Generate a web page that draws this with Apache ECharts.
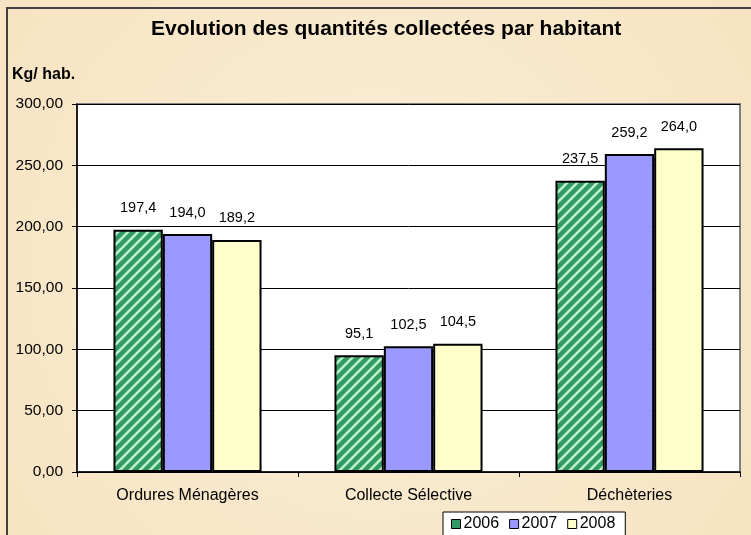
<!DOCTYPE html>
<html>
<head>
<meta charset="utf-8">
<script src="https://cdn.jsdelivr.net/npm/echarts@6/dist/echarts.min.js"></script>
<style>
  html, body { margin: 0; padding: 0; }
  #main { width: 751px; height: 535px; background: #f9ead0; }
</style>
</head>
<body>
<div id="main"></div>
<script>
const categories = ['Ordures Ménagères', 'Collecte Sélective', 'Déchèteries'];
const years = ['2006', '2007', '2008'];
const values2006 = [197.4, 95.1, 237.5];
const values2007 = [194.0, 102.5, 259.2];
const values2008 = [189.2, 104.5, 264.0];
const yTicks = [0, 50, 100, 150, 200, 250, 300];

// motif hachuré pour 2006
function stripePattern() {
  const c = document.createElement('canvas');
  c.width = 10;
  c.height = 10;
  const ctx = c.getContext('2d');
  ctx.fillStyle = '#339966';
  ctx.fillRect(0, 0, 10, 10);
  ctx.strokeStyle = '#b8f5c8';
  ctx.lineWidth = 2.6;
  ctx.beginPath();
  ctx.moveTo(-5, 5); ctx.lineTo(5, -5);
  ctx.moveTo(0, 10); ctx.lineTo(10, 0);
  ctx.moveTo(5, 15); ctx.lineTo(15, 5);
  ctx.stroke();
  return c;
}

const chart = echarts.init(document.getElementById('main'), null, { renderer: 'canvas' });

const FONT = 'Liberation Sans, Arial';

const labelOpt = {
  show: true,
  position: 'top',
  distance: 14,
  color: '#000',
  fontFamily: FONT,
  fontSize: 14.5,
  formatter: p => p.value.toFixed(1).replace('.', ',')
};

function bar(name, data, color) {
  return {
    name: name,
    type: 'bar',
    data: data,
    barGap: '0%',
    barCategoryGap: '33%',
    itemStyle: { color: color, borderColor: '#000', borderWidth: 2 },
    label: labelOpt,
    emphasis: { disabled: true }
  };
}

const option = {
  animation: false,
  backgroundColor: {
    type: 'radial', x: 0.5, y: 0.5, r: 0.8,
    colorStops: [
      { offset: 0, color: '#fbefd8' },
      { offset: 1, color: '#f7e4c3' }
    ]
  },
  title: {
    text: 'Evolution des quantités collectées par habitant',
    left: 146,
    top: 14,
    textStyle: { fontFamily: FONT, fontSize: 21, fontWeight: 'bold', color: '#000' }
  },
  graphic: [
    {
      type: 'rect',
      shape: { x: 7, y: 8, width: 760, height: 540 },
      style: { fill: 'none', stroke: '#404040', lineWidth: 2 },
      silent: true
    },
    {
      type: 'text',
      left: 12,
      top: 67,
      style: { text: 'Kg/ hab.', font: 'bold 16px "Liberation Sans", Arial', fill: '#000' }
    }
  ],
  legend: {
    data: years.map((y, i) => ({ name: y, itemStyle: { color: ['#339966', '#9999ff', '#ffffcc'][i], borderColor: '#000', borderWidth: 1 } })),
    left: 443,
    top: 512,
    itemWidth: 9,
    itemHeight: 9,
    itemGap: 10,
    icon: 'rect',
    padding: [4, 10, 6, 8],
    backgroundColor: '#fff',
    borderColor: '#000',
    borderWidth: 1,
    textStyle: { fontFamily: FONT, fontSize: 16, color: '#000', padding: [0, 0, 0, -2] }
  },
  grid: {
    left: 77, right: 11, top: 104, bottom: 63,
    show: true,
    backgroundColor: '#fff',
    borderColor: '#808080',
    borderWidth: 2
  },
  xAxis: {
    type: 'category',
    data: categories,
    axisLine: { lineStyle: { color: '#000', width: 1.5 } },
    axisTick: { show: true, alignWithLabel: false, length: 5, lineStyle: { color: '#000' } },
    axisLabel: { color: '#000', fontFamily: FONT, fontSize: 16, margin: 16 }
  },
  yAxis: {
    type: 'value',
    min: yTicks[0],
    max: yTicks[yTicks.length - 1],
    interval: 50,
    axisLine: { show: true, lineStyle: { color: '#000', width: 1.5 } },
    axisTick: { show: true, length: 5, lineStyle: { color: '#000' } },
    axisLabel: {
      color: '#000', fontFamily: FONT, fontSize: 15.5, margin: 14,
      formatter: v => v.toFixed(2).replace('.', ',')
    },
    splitLine: { lineStyle: { color: '#000', width: 1 } }
  },
  series: [
    bar(years[0], values2006, { image: stripePattern(), repeat: 'repeat' }),
    bar(years[1], values2007, '#9999ff'),
    bar(years[2], values2008, '#ffffcc')
  ]
};

chart.setOption(option);
</script>
</body>
</html>
